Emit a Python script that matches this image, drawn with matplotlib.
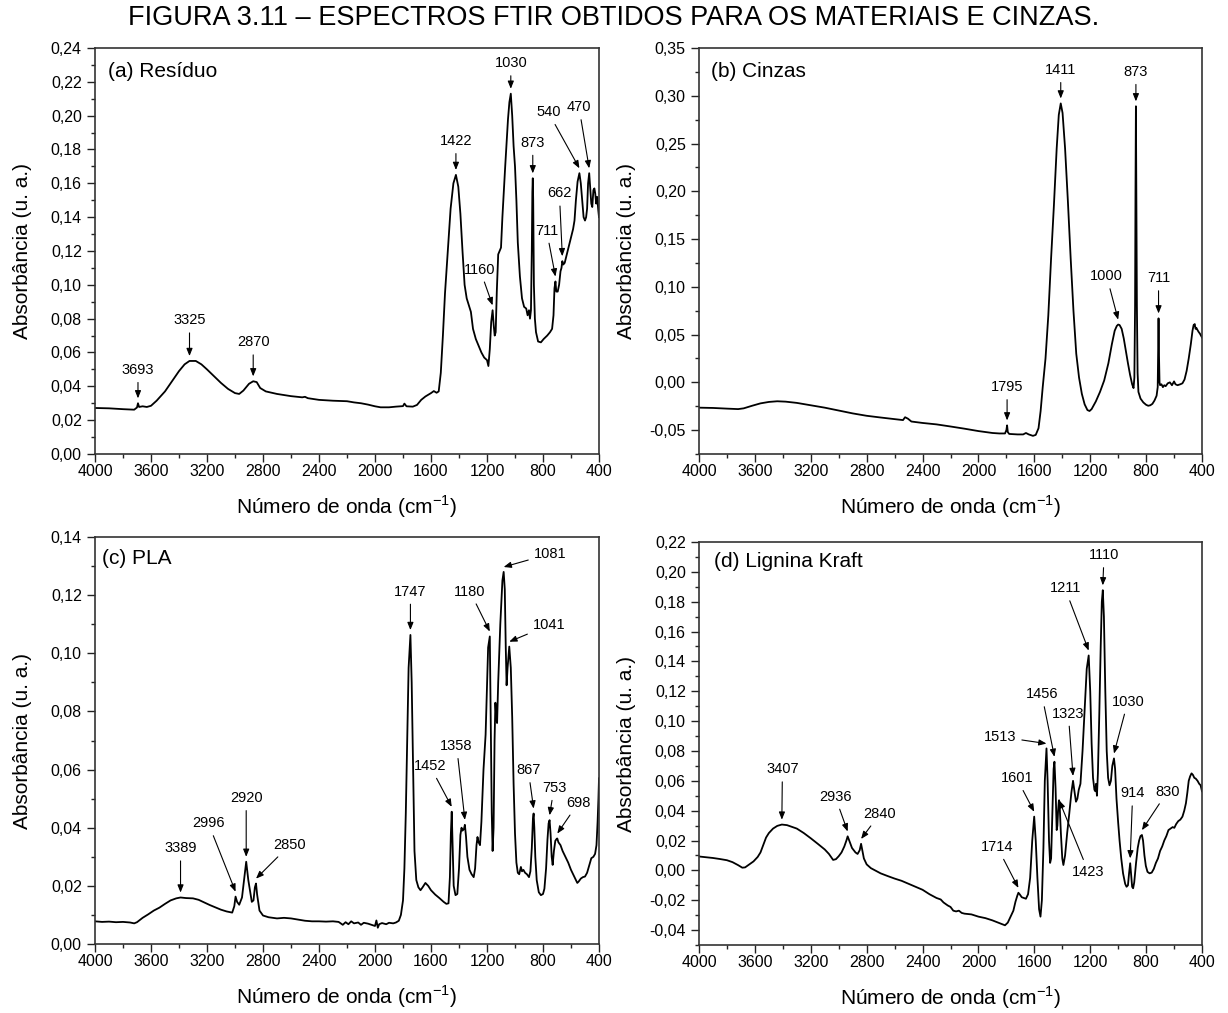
import numpy as np
import matplotlib
matplotlib.use("Agg")
import matplotlib.pyplot as plt
from matplotlib.ticker import MultipleLocator, FuncFormatter

plt.rcParams['font.family'] = ['Liberation Sans', 'DejaVu Sans']
plt.rcParams['mathtext.fontset'] = 'custom'
plt.rcParams['mathtext.rm'] = 'Liberation Sans'
plt.rcParams['axes.unicode_minus'] = False

# (a) residuo  -- numero de onda (cm-1), absorbancia
residuo = np.array([
    [4000, .0272], [3900, .0270], [3800, .0265], [3720, .0262], [3700, .0275], [3693, .0300],
    [3685, .0278], [3660, .0282], [3630, .0278], [3600, .0285], [3560, .0315], [3500, .0370],
    [3450, .0430], [3400, .0490], [3360, .0530], [3325, .0550], [3280, .0550], [3240, .0530],
    [3200, .0500], [3150, .0460], [3100, .0420], [3050, .0385], [3000, .0360], [2970, .0355],
    [2940, .0375], [2900, .0415], [2870, .0430], [2845, .0425], [2820, .0390], [2780, .0370],
    [2700, .0355], [2600, .0342], [2520, .0335], [2500, .0338], [2480, .0330], [2400, .0320],
    [2300, .0315], [2200, .0312], [2150, .0305], [2100, .0300], [2050, .0292], [2000, .0282],
    [1960, .0276], [1900, .0276], [1850, .0280], [1800, .0283], [1790, .0298], [1775, .0282],
    [1730, .0280], [1700, .0290], [1670, .0320], [1640, .0340], [1600, .0360], [1580, .0372],
    [1560, .0362], [1545, .0370], [1530, .0480], [1515, .0700], [1500, .0950], [1480, .1200],
    [1460, .1450], [1440, .1600], [1422, .1650], [1405, .1580], [1390, .1420], [1375, .1200],
    [1360, .1000], [1345, .0920], [1330, .0880], [1315, .0840], [1300, .0740], [1280, .0680],
    [1260, .0640], [1240, .0600], [1220, .0570], [1200, .0555], [1190, .0520], [1180, .0620],
    [1170, .0780], [1160, .0850], [1152, .0760], [1145, .0700], [1138, .0720], [1130, .0960],
    [1120, .1180], [1110, .1200], [1100, .1220], [1090, .1400], [1070, .1700], [1050, .1980],
    [1040, .2080], [1030, .2130], [1020, .2000], [1010, .1820], [1000, .1700], [990, .1500],
    [980, .1250], [965, .1050], [950, .0920], [935, .0870], [920, .0860], [910, .0820],
    [900, .0850], [893, .0800], [886, .0850], [880, .1200], [876, .1550], [873, .1630],
    [870, .1500], [865, .1000], [858, .0800], [850, .0720], [835, .0665], [815, .0660],
    [795, .0680], [770, .0700], [750, .0720], [735, .0740], [725, .0820], [718, .0980],
    [711, .1020], [705, .0960], [695, .0960], [685, .1000], [675, .1080], [668, .1100],
    [662, .1140], [655, .1120], [645, .1130], [630, .1180], [615, .1230], [600, .1280],
    [585, .1330], [575, .1380], [565, .1500], [553, .1610], [540, .1660], [530, .1600],
    [520, .1500], [510, .1400], [500, .1380], [492, .1400], [485, .1450], [478, .1600],
    [470, .1660], [463, .1580], [455, .1480], [448, .1460], [440, .1560], [433, .1570],
    [427, .1540], [420, .1480], [413, .1520], [405, .1440], [400, .1400],
])
picos_a = [3693, 3325, 2870, 1422, 1160, 1030, 873, 711, 662, 540, 470]

# (b) cinzas
cinzas = np.array([
    [4000, -.0265], [3900, -.0268], [3800, -.0275], [3720, -.0280], [3680, -.0272], [3620, -.0245],
    [3560, -.0220], [3500, -.0205], [3440, -.0198], [3380, -.0202], [3300, -.0215], [3200, -.0240],
    [3100, -.0265], [3000, -.0295], [2900, -.0325], [2800, -.0350], [2700, -.0368], [2600, -.0385],
    [2540, -.0395], [2525, -.0365], [2505, -.0380], [2480, -.0410], [2400, -.0425], [2300, -.0440],
    [2200, -.0462], [2100, -.0485], [2000, -.0510], [1950, -.0520], [1900, -.0530], [1850, -.0535],
    [1810, -.0535], [1800, -.0500], [1795, -.0450], [1790, -.0520], [1780, -.0540], [1720, -.0545],
    [1680, -.0545], [1660, -.0530], [1640, -.0545], [1610, -.0560], [1590, -.0550], [1570, -.0480],
    [1555, -.0300], [1540, -.0050], [1520, .0250], [1500, .0700], [1480, .1300], [1460, .1850],
    [1440, .2450], [1425, .2800], [1411, .2920], [1398, .2820], [1380, .2450], [1360, .1900],
    [1340, .1300], [1320, .0750], [1300, .0300], [1280, .0050], [1260, -.0120], [1240, -.0230],
    [1220, -.0290], [1205, -.0300], [1190, -.0280], [1160, -.0200], [1130, -.0100], [1100, .0020],
    [1070, .0200], [1045, .0400], [1025, .0540], [1010, .0590], [1000, .0605], [990, .0600],
    [975, .0560], [960, .0460], [945, .0330], [930, .0200], [915, .0080], [900, -.0020],
    [890, -.0060], [884, .0050], [879, .0800], [876, .2000], [873, .2890], [870, .2000],
    [866, .0800], [861, .0100], [855, -.0100], [840, -.0170], [820, -.0210], [800, -.0235],
    [785, -.0245], [770, -.0240], [755, -.0225], [740, -.0190], [725, -.0140], [717, -.0050],
    [714, .0300], [711, .0670], [708, .0300], [704, .0000], [700, -.0030], [690, -.0020],
    [680, -.0050], [670, -.0030], [660, -.0040], [645, -.0010], [630, .0000], [615, -.0030],
    [600, .0010], [590, -.0020], [575, -.0030], [555, -.0020], [540, -.0010], [525, .0030],
    [510, .0120], [495, .0250], [480, .0400], [468, .0540], [460, .0600], [452, .0610],
    [446, .0560], [440, .0570], [433, .0550], [425, .0530], [415, .0510], [400, .0470],
])
picos_b = [1795, 1411, 1000, 873, 711]

# (c) PLA
pla = np.array([
    [4000, .0078], [3950, .0076], [3900, .0077], [3850, .0075], [3800, .0076], [3750, .0074],
    [3720, .0071], [3700, .0075], [3660, .0090], [3620, .0102], [3580, .0115], [3540, .0125],
    [3500, .0138], [3460, .0150], [3420, .0157], [3389, .0160], [3350, .0158], [3300, .0157],
    [3260, .0152], [3220, .0143], [3180, .0134], [3140, .0126], [3100, .0118], [3060, .0112],
    [3020, .0108], [3005, .0130], [2996, .0163], [2985, .0145], [2970, .0135], [2950, .0160],
    [2935, .0220], [2920, .0283], [2905, .0220], [2880, .0145], [2868, .0150], [2858, .0195],
    [2850, .0208], [2842, .0170], [2825, .0115], [2800, .0098], [2760, .0092], [2700, .0088],
    [2650, .0090], [2600, .0088], [2550, .0084], [2500, .0080], [2450, .0078], [2400, .0078],
    [2350, .0077], [2300, .0078], [2260, .0076], [2230, .0066], [2210, .0075], [2190, .0068],
    [2170, .0078], [2150, .0071], [2120, .0074], [2100, .0066], [2080, .0073], [2050, .0070],
    [2020, .0065], [2000, .0062], [1990, .0081], [1980, .0056], [1970, .0068], [1950, .0072],
    [1920, .0068], [1900, .0073], [1870, .0071], [1850, .0074], [1830, .0080], [1815, .0100],
    [1800, .0150], [1790, .0260], [1780, .0450], [1770, .0700], [1760, .0950], [1747, .1063],
    [1738, .0900], [1728, .0600], [1718, .0320], [1705, .0220], [1690, .0195], [1675, .0185],
    [1660, .0195], [1640, .0210], [1620, .0200], [1600, .0185], [1570, .0170], [1540, .0158],
    [1510, .0145], [1490, .0138], [1475, .0140], [1465, .0230], [1458, .0380], [1452, .0455],
    [1446, .0350], [1438, .0200], [1425, .0168], [1412, .0172], [1400, .0260], [1390, .0375],
    [1382, .0400], [1375, .0390], [1365, .0395], [1358, .0410], [1350, .0370], [1340, .0300],
    [1325, .0255], [1310, .0240], [1295, .0230], [1285, .0260], [1275, .0340], [1268, .0368],
    [1260, .0350], [1250, .0340], [1240, .0420], [1225, .0600], [1210, .0720], [1200, .0880],
    [1192, .1020], [1180, .1058], [1174, .0800], [1166, .0450], [1160, .0320], [1153, .0400],
    [1146, .0700], [1140, .0830], [1134, .0780], [1128, .0760], [1120, .0900], [1105, .1100],
    [1090, .1250], [1081, .1280], [1073, .1220], [1066, .1020], [1060, .0890], [1053, .0950],
    [1041, .1023], [1030, .0950], [1020, .0780], [1010, .0550], [1000, .0380], [990, .0280],
    [980, .0245], [970, .0240], [958, .0265], [950, .0250], [940, .0255], [928, .0245],
    [915, .0240], [900, .0230], [890, .0250], [880, .0330], [872, .0430], [867, .0449],
    [862, .0400], [855, .0300], [845, .0220], [830, .0178], [815, .0168], [800, .0172],
    [790, .0190], [778, .0260], [768, .0360], [760, .0415], [753, .0426], [746, .0380],
    [738, .0300], [731, .0272], [722, .0320], [712, .0355], [702, .0362], [698, .0363],
    [690, .0350], [675, .0340], [660, .0320], [640, .0300], [620, .0280], [600, .0255],
    [585, .0240], [570, .0225], [555, .0210], [545, .0215], [530, .0225], [515, .0230],
    [500, .0232], [485, .0245], [470, .0270], [455, .0295], [440, .0300], [428, .0310],
    [418, .0340], [410, .0420], [404, .0500], [400, .0570],
])
picos_c = [3389, 2996, 2920, 2850, 1747, 1452, 1358, 1180, 1081, 1041, 867, 753, 698]

# (d) lignina kraft
lignina = np.array([
    [4000, .0093], [3950, .0088], [3900, .0083], [3850, .0076], [3800, .0068], [3760, .0055],
    [3720, .0035], [3690, .0018], [3670, .0020], [3640, .0040], [3610, .0060], [3580, .0090],
    [3560, .0120], [3540, .0170], [3520, .0220], [3500, .0250], [3470, .0280], [3440, .0298],
    [3407, .0307], [3370, .0303], [3330, .0290], [3300, .0280], [3250, .0250], [3200, .0215],
    [3150, .0178], [3100, .0140], [3070, .0110], [3040, .0070], [3020, .0075], [3000, .0095],
    [2980, .0120], [2960, .0160], [2945, .0200], [2936, .0228], [2925, .0200], [2905, .0150],
    [2880, .0120], [2865, .0110], [2850, .0135], [2840, .0178], [2832, .0140], [2820, .0080],
    [2800, .0040], [2770, .0015], [2740, .0000], [2700, -.0020], [2650, -.0038], [2600, -.0055],
    [2550, -.0070], [2500, -.0090], [2450, -.0110], [2400, -.0130], [2350, -.0160], [2300, -.0185],
    [2270, -.0195], [2250, -.0215], [2220, -.0235], [2200, -.0245], [2180, -.0270], [2160, -.0275],
    [2140, -.0270], [2120, -.0285], [2100, -.0290], [2050, -.0295], [2000, -.0310], [1950, -.0320],
    [1900, -.0335], [1860, -.0350], [1830, -.0362], [1810, -.0368], [1790, -.0350], [1770, -.0310],
    [1750, -.0270], [1735, -.0210], [1722, -.0170], [1714, -.0150], [1705, -.0160], [1690, -.0180],
    [1675, -.0185], [1660, -.0190], [1645, -.0160], [1630, -.0050], [1615, .0200], [1601, .0360],
    [1590, .0200], [1578, -.0050], [1566, -.0260], [1556, -.0310], [1546, -.0200], [1535, .0150],
    [1525, .0600], [1513, .0817], [1505, .0600], [1495, .0200], [1487, .0050], [1480, .0080],
    [1470, .0400], [1462, .0680], [1456, .0728], [1448, .0550], [1440, .0270], [1435, .0300],
    [1430, .0400], [1425, .0460], [1423, .0470], [1418, .0420], [1410, .0250], [1400, .0080],
    [1392, .0036], [1380, .0100], [1365, .0250], [1350, .0380], [1335, .0520], [1323, .0600],
    [1313, .0530], [1302, .0460], [1292, .0480], [1282, .0540], [1270, .0580], [1255, .0800],
    [1240, .1080], [1225, .1350], [1211, .1440], [1200, .1200], [1190, .0850], [1180, .0620],
    [1170, .0540], [1163, .0530], [1158, .0580], [1152, .0500], [1145, .0650], [1135, .1050],
    [1125, .1500], [1117, .1800], [1110, .1877], [1102, .1700], [1092, .1200], [1082, .0800],
    [1072, .0620], [1062, .0570], [1052, .0600], [1042, .0700], [1030, .0750], [1022, .0680],
    [1012, .0480], [1000, .0320], [990, .0200], [978, .0080], [965, -.0020], [950, -.0090],
    [940, -.0110], [930, -.0100], [922, -.0020], [914, .0048], [907, -.0030], [900, -.0110],
    [893, -.0120], [885, -.0080], [872, .0050], [860, .0150], [850, .0200], [840, .0230],
    [830, .0237], [822, .0200], [812, .0100], [802, .0030], [790, -.0010], [775, -.0020],
    [760, -.0015], [745, .0010], [730, .0050], [715, .0080], [700, .0130], [685, .0160],
    [670, .0200], [655, .0230], [640, .0270], [625, .0280], [610, .0290], [598, .0285],
    [585, .0310], [570, .0330], [555, .0340], [540, .0360], [527, .0400], [515, .0450],
    [505, .0520], [495, .0600], [485, .0630], [475, .0650], [465, .0640], [455, .0620],
    [445, .0615], [432, .0600], [420, .0580], [410, .0570], [400, .0530],
])
picos_d = [3407, 2936, 2840, 1714, 1601, 1513, 1456, 1423, 1323, 1211, 1110, 1030, 914, 830]

# posicao dos rotulos dos picos (centro do texto, em coordenadas dos dados)
pos_a = {3693: (3693, .0497), 3325: (3325, .079), 2870: (2870, .066), 1422: (1422, .185),
         1160: (1250, .109), 1030: (1030, .231), 873: (873, .184), 711: (774, .132),
         662: (683, .154), 540: (762, .202), 470: (543, .205)}
pos_b = {1795: (1795, -.005), 1411: (1411, .327), 1000: (1082, .111), 873: (873, .325),
         711: (711, .109)}
pos_c = {3389: (3389, .0329), 2996: (3190, .0415), 2920: (2920, .0502), 2850: (2610, .034),
         1747: (1747, .1212), 1452: (1607, .0612), 1358: (1417, .0681), 1180: (1321, .1212),
         1081: (750, .1342), 1041: (757, .1097), 867: (905, .0598), 753: (721, .0537),
         698: (548, .0485)}
pos_d = {3407: (3403, .0677), 2936: (3025, .0493), 2840: (2706, .0378), 1714: (1865, .0156),
         1601: (1726, .0617), 1513: (1845, .0895), 1456: (1547, .118), 1423: (1213, -.001),
         1323: (1357, .105), 1211: (1380, .1889), 1110: (1101, .2112), 1030: (931, .113),
         914: (896, .0516), 830: (648, .0527)}

W, H = 1228, 1013
fig = plt.figure(figsize=(W / 100, H / 100), dpi=100)

fig.text(0.5, 1 - 25 / H, 'FIGURA 3.11 – ESPECTROS FTIR OBTIDOS PARA OS MATERIAIS E CINZAS.',
         ha='center', va='baseline', fontsize=19.5)

virgula = FuncFormatter(lambda v, p: ('%.2f' % v).replace('.', ','))


def painel(box, spec, picos, pos, ylim, ystep, titulo, tpos):
    l, t, r, b = box
    ax = fig.add_axes([l / W, 1 - b / H, (r - l) / W, (b - t) / H])
    ax.plot(spec[:, 0], spec[:, 1], color='black', lw=1.3)
    ax.set_xlim(4000, 400)
    ax.set_ylim(*ylim)
    ax.xaxis.set_major_locator(MultipleLocator(400))
    ax.xaxis.set_minor_locator(MultipleLocator(200))
    ax.yaxis.set_major_locator(MultipleLocator(ystep))
    ax.yaxis.set_minor_locator(MultipleLocator(ystep / 2))
    ax.yaxis.set_major_formatter(virgula)
    ax.tick_params(which='both', direction='out', top=False, right=False, width=1, colors='#222')
    ax.tick_params(which='major', length=5.5, labelsize=11.5, labelcolor='black')
    ax.tick_params(which='minor', length=3)
    ax.tick_params(axis='x', which='major', pad=2)
    ax.tick_params(axis='y', which='major', pad=4)
    for s in ax.spines.values():
        s.set_linewidth(1.2)
        s.set_color('#333')
    ax.set_xlabel('Número de onda (cm$^{-1}$)', fontsize=15)
    ax.xaxis.set_label_coords(0.5, -39 / (b - t))
    ax.set_ylabel('Absorbância (u. a.)', fontsize=15)
    ax.yaxis.set_label_coords(-0.125, 0.5)
    ax.text(tpos[0], tpos[1], titulo, transform=ax.transAxes, fontsize=15, ha='left', va='center')

    gap = 0.012 * (ylim[1] - ylim[0])
    for p in picos:
        i = np.argmin(np.abs(spec[:, 0] - p))
        y = spec[i, 1]
        tx, ty = pos[p]
        tip = y + gap if ty > y else y
        ax.annotate(str(p), xy=(p, tip), xytext=(tx, ty), ha='center', va='center', fontsize=10.5,
                    arrowprops=dict(arrowstyle='-|>,head_length=0.45,head_width=0.18',
                                    color='black', lw=0.8, shrinkA=2, shrinkB=0,
                                    mutation_scale=10))
    return ax


painel((95, 48, 599, 454), residuo, picos_a, pos_a, (0, 0.24), 0.02, '(a) Resíduo', (0.026, 0.941))
painel((699, 48, 1202, 454), cinzas, picos_b, pos_b, (-0.075, 0.35), 0.05, '(b) Cinzas', (0.024, 0.941))
painel((95, 537, 599, 944), pla, picos_c, pos_c, (0, 0.14), 0.02, '(c) PLA', (0.014, 0.946))
painel((699, 542, 1202, 945), lignina, picos_d, pos_d, (-0.05, 0.22), 0.02, '(d) Lignina Kraft', (0.03, 0.951))

fig.savefig('out.png', dpi=100)
